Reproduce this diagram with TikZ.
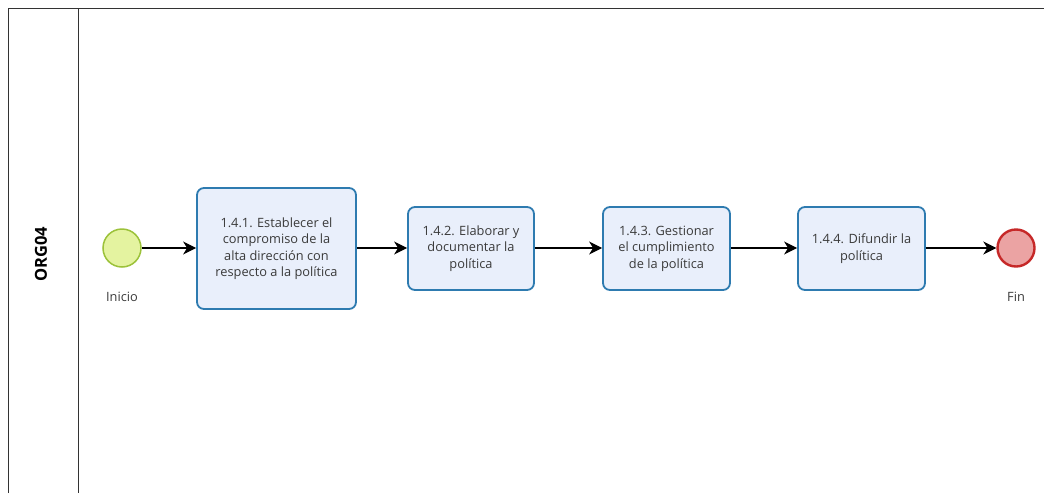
\documentclass[tikz,border=0pt]{standalone}
\usepackage{fontspec}
\setmainfont{Open Sans}
\usetikzlibrary{arrows.meta}
\definecolor{taskfill}{HTML}{E9EFFB}
\definecolor{taskline}{HTML}{2E7BB0}
\definecolor{startfill}{HTML}{E4F3A0}
\definecolor{startline}{HTML}{9CC23A}
\definecolor{endfill}{HTML}{EBA3A3}
\definecolor{endline}{HTML}{C62828}
\definecolor{txt}{HTML}{3A3A3A}
\tikzset{
  task/.style={draw=taskline, line width=1.8pt, fill=taskfill, rounded corners=7pt,
    align=center, font=\fontsize{12.8}{16.5}\selectfont, text=txt, inner sep=0pt},
  startev/.style={circle, draw=startline, line width=1.5pt, fill=startfill,
    minimum size=38pt, inner sep=0pt},
  endev/.style={circle, draw=endline, line width=2.4pt, fill=endfill,
    minimum size=37pt, inner sep=0pt},
  evlabel/.style={font=\fontsize{12.8}{15}\selectfont, text=txt},
  flow/.style={line width=1.2pt, -{Stealth[length=13pt,width=13pt,inset=4pt]}},
  pool/.style={line width=1pt, draw=black!80}
}
\begin{document}
\begin{tikzpicture}[x=1pt,y=-1pt]
  \useasboundingbox (0,0) rectangle (1044,493);
  % pool and lane header
  \draw[pool] (8,493) -- (8,8) -- (1044,8);
  \draw[pool] (78,8) -- (78,493);
  \node[rotate=90, font=\fontsize{16.5}{18}\selectfont\bfseries] (lane) at (41,254) {ORG04};

  % events
  \node[startev] (ini) at (122,248) {};
  \node[evlabel] (iniL) at (122,297) {Inicio};
  \node[endev] (fin) at (1016,248) {};
  \node[evlabel] (finL) at (1016,297) {Fin};

  % tasks (given by their corners)
  \node[task, minimum width=159pt, minimum height=121pt] (t1) at (276.5,248.5)
    {1.4.1. Establecer el\\compromiso de la\\alta dirección con\\respecto a la política};
  \node[task, minimum width=126pt, minimum height=83pt] (t2) at (471,248.5)
    {1.4.2. Elaborar y\\documentar la\\política};
  \node[task, minimum width=127pt, minimum height=83pt] (t3) at (666.5,248.5)
    {1.4.3. Gestionar\\el cumplimiento\\de la política};
  \node[task, minimum width=127pt, minimum height=83pt] (t4) at (861.5,248.5)
    {1.4.4. Difundir la\\política};

  % sequence flows
  \draw[flow] (ini) -- (t1.west |- ini);
  \draw[flow] (t1.east |- ini) -- (t2.west |- ini);
  \draw[flow] (t2.east |- ini) -- (t3.west |- ini);
  \draw[flow] (t3.east |- ini) -- (t4.west |- ini);
  \draw[flow] (t4.east |- ini) -- (fin);
\end{tikzpicture}
\end{document}
